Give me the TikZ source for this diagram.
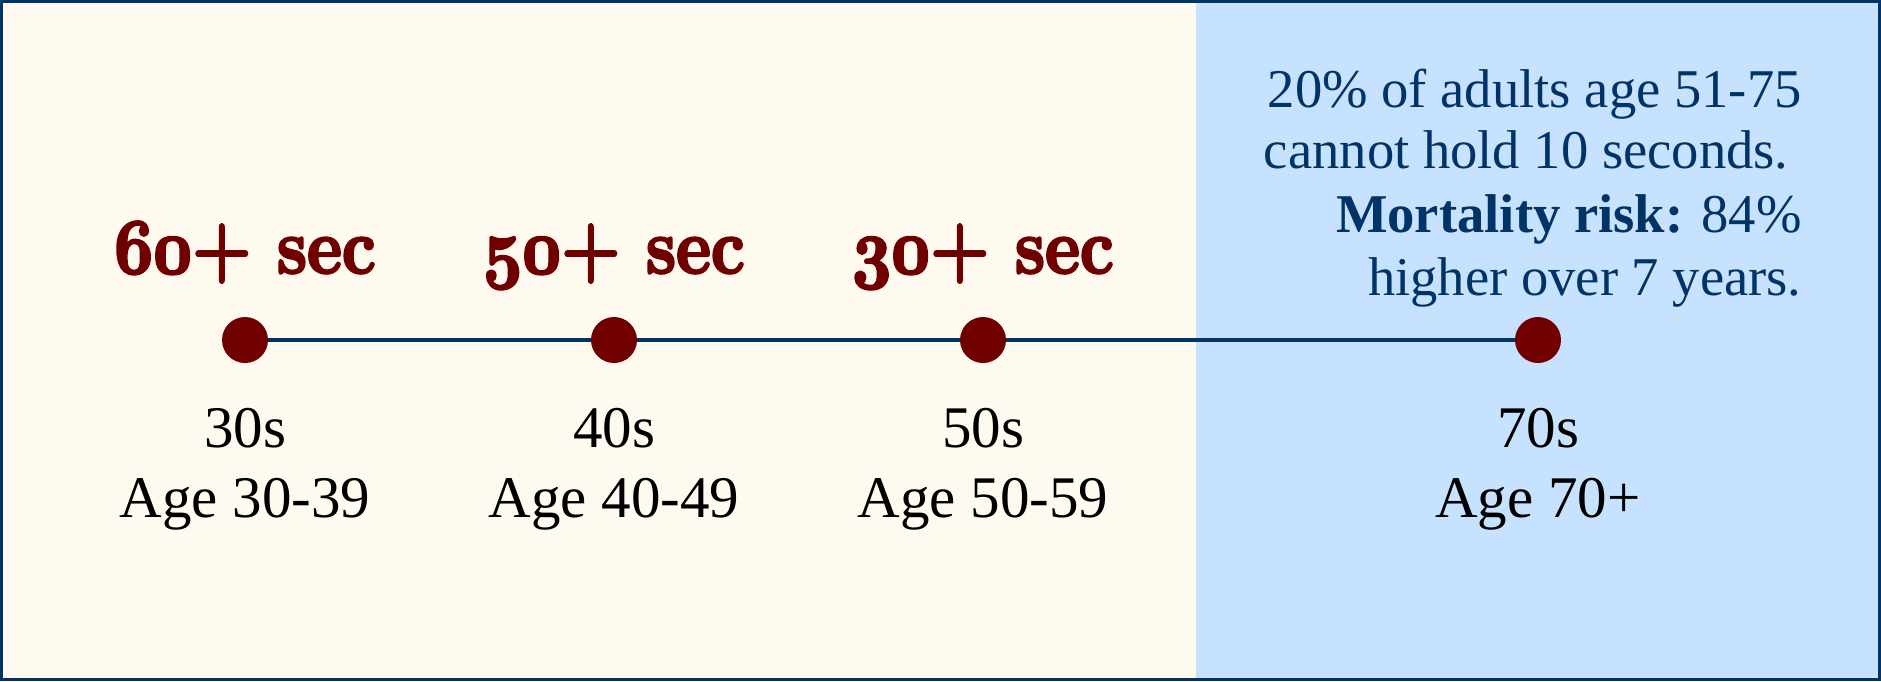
\documentclass[tikz,border=0pt]{standalone}
\usepackage{fontspec}
\usepackage{graphicx}
\setmainfont{Liberation Serif}
\newfontfamily\lmfont{Latin Modern Roman}
\DeclareFontFamily{OML}{oscm}{}
\DeclareFontShape{OML}{oscm}{b}{it}{<-> cmmib10}{}
\newcommand\hnum[1]{{\usefont{OML}{oscm}{b}{it}#1}}
\newcommand\headfont{\lmfont\bfseries\fontsize{39}{44}\selectfont}
\newcommand\heavy[1]{\special{pdf:literal q 2 Tr 1.3 w 1 j}#1\special{pdf:literal Q}}
\definecolor{bgcream}{HTML}{FFFAF0}
\definecolor{bgblue}{HTML}{C6E2FF}
\definecolor{framenavy}{HTML}{003366}
\definecolor{dotred}{HTML}{700000}
\begin{document}
\begin{tikzpicture}[x=0.5pt,y=-0.5pt,
  dot/.style={circle,fill=dotred,inner sep=0pt,minimum size=23pt},
  head/.style={anchor=base,text=dotred,font=\headfont,inner sep=0pt},
  age/.style={anchor=base,font=\fontsize{29.5}{35}\selectfont,inner sep=0pt},
  note/.style={anchor=base east,text=framenavy,font=\fontsize{27.3}{31}\selectfont,inner sep=0pt},
  tl/.style={draw=framenavy,line width=1.8pt}]
\useasboundingbox (0,0) rectangle (1881,681);
\fill[bgcream] (0,0) rectangle (1196,681);
\fill[bgblue] (1196,0) rectangle (1881,681);
\draw[framenavy,line width=1.5pt] (1.5,1.5) rectangle (1879.5,679.5);
% dots
\node[dot] (d1) at (245,340) {};
\node[dot] (d2) at (614,340) {};
\node[dot] (d3) at (983,340) {};
\node[dot] (d4) at (1538,340) {};
\draw[tl] (d1) -- (d2) -- (d3) -- (d4);
% headings
\node[head] (h1) at (245,273) {\scalebox{0.87}[1]{\heavy{\hnum{60}+ sec}}};
\node[head] (h2) at (614,273) {\scalebox{0.87}[1]{\heavy{\hnum{50}+ sec}}};
\node[head] (h3) at (983,273) {\scalebox{0.87}[1]{\heavy{\hnum{30}+ sec}}};
% age labels
\node[age] (a1) at (245,447) {30s};
\node[age] (b1) at (245,517) {Age 30-39};
\node[age] (a2) at (614,447) {40s};
\node[age] (b2) at (614,517) {Age 40-49};
\node[age] (a3) at (983,447) {50s};
\node[age] (b3) at (983,517) {Age 50-59};
\node[age] (a4) at (1538,447) {70s};
\node[age] (b4) at (1538,517) {Age 70+};
% note
\node[note] (n1) at (1802,107) {20\% of adults age 51-75};
\node[note] (n2) at (1789,168) {cannot hold 10 seconds.};
\node[note] (n3) at (1802,232) {\textbf{Mortality risk:} 84\%};
\node[note] (n4) at (1802,295) {higher over 7 years.};
\end{tikzpicture}
\end{document}
